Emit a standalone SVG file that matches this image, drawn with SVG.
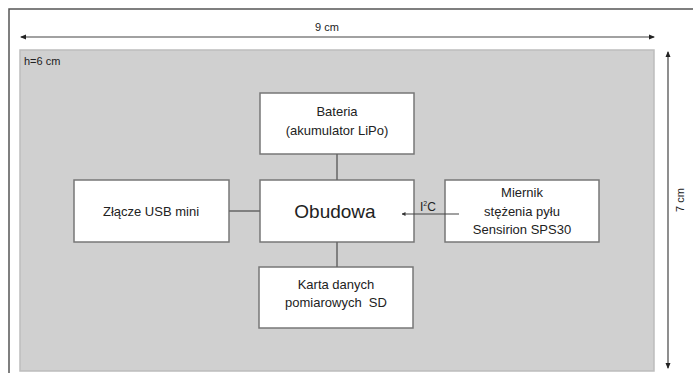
<svg xmlns="http://www.w3.org/2000/svg" width="693" height="373" viewBox="0 0 693 373">
<defs>
<style>
text{font-family:"Liberation Sans",Arial,sans-serif;fill:#222}
.box{fill:#fff;stroke:#777;stroke-width:1.5}
.lbl{font-size:13px;text-anchor:middle}
.dim{font-size:11px}
.con{stroke:#666;stroke-width:1.5;fill:none}
.dl{stroke:#444;stroke-width:1.2;fill:none}
</style>
<marker id="ah" viewBox="0 0 6 6" refX="5" refY="3" markerWidth="6" markerHeight="6" orient="auto-start-reverse" markerUnits="userSpaceOnUse">
<path d="M0,0.5 L6,3 L0,5.5 z" fill="#222"/>
</marker>
<marker id="sm" viewBox="0 0 4 4" refX="3.5" refY="2" markerWidth="4" markerHeight="4" orient="auto" markerUnits="userSpaceOnUse">
<path d="M0,0 L4,2 L0,4 z" fill="#333"/>
</marker>
</defs>
<rect x="0" y="0" width="693" height="373" fill="#fff"/>
<rect x="9" y="9" width="700" height="380" fill="none" stroke="#555" stroke-width="1.5"/>
<g id="dimensions">
<line class="dl" x1="21" y1="37" x2="654" y2="37" marker-start="url(#ah)" marker-end="url(#ah)"/>
<text class="dim" x="327" y="31" text-anchor="middle">9 cm</text>
<line class="dl" x1="668" y1="52" x2="668" y2="368" marker-start="url(#ah)" marker-end="url(#ah)"/>
<text class="dim" x="684" y="200" text-anchor="middle" transform="rotate(-90 684 200)">7 cm</text>
</g>
<g id="plate">
<rect x="20" y="50" width="634" height="321" fill="#d0d0d0" stroke="#bdbdbd" stroke-width="1.5"/>
<text class="dim" x="24" y="65">h=6 cm</text>
</g>
<g id="bateria">
<rect class="box" x="260" y="93" width="154" height="61"/>
<text class="lbl" x="337" y="116">Bateria</text>
<text class="lbl" x="337" y="135">(akumulator LiPo)</text>
</g>
<g id="obudowa">
<rect class="box" x="260" y="180" width="154" height="62"/>
<text x="335" y="218" font-size="19" text-anchor="middle">Obudowa</text>
</g>
<g id="usb">
<rect class="box" x="74" y="180" width="155" height="62"/>
<text class="lbl" x="151" y="216">Złącze USB mini</text>
</g>
<g id="miernik">
<rect class="box" x="445" y="180" width="154" height="62"/>
<text class="lbl" x="522" y="197">Miernik</text>
<text class="lbl" x="522" y="216">stężenia pyłu</text>
<text class="lbl" x="522" y="234">Sensirion SPS30</text>
</g>
<g id="karta">
<rect class="box" x="259" y="267" width="154" height="61"/>
<text class="lbl" x="336" y="289">Karta danych</text>
<text class="lbl" x="336" y="307" style="white-space:pre">pomiarowych  SD</text>
</g>
<g id="connectors">
<line class="con" x1="337" y1="154" x2="337" y2="180"/>
<line class="con" x1="337" y1="242" x2="337" y2="267"/>
<line class="con" x1="229" y1="211" x2="260" y2="211"/>
<line x1="459" y1="214" x2="402" y2="214" stroke="#444" stroke-width="1.2" marker-end="url(#sm)"/>
<text x="420" y="211" font-size="12">I<tspan font-size="7" dy="-5">2</tspan><tspan dy="5">C</tspan></text>
</g>
</svg>
